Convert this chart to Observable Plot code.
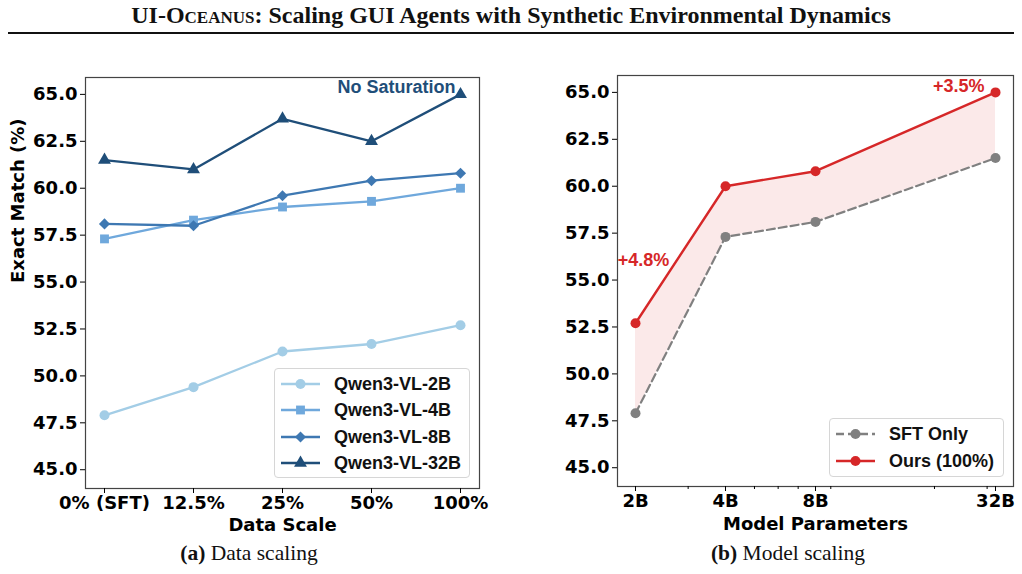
<!DOCTYPE html>
<html>
<head>
<meta charset="utf-8">
<script src="https://cdn.jsdelivr.net/npm/d3@7"></script>
<script src="https://cdn.jsdelivr.net/npm/@observablehq/plot@0.6"></script>
<style>
  html, body { margin: 0; padding: 0; background: #fff; }
  #page { position: relative; width: 1022px; height: 574px; overflow: hidden; background: #fff; }
  .abs { position: absolute; }
  #title { left: 0; width: 1022px; top: 0px; text-align: center; font-family: "Liberation Serif", serif; font-weight: bold; font-size: 24px; line-height: 30px; color: #111; }
  #rule { left: 8px; width: 1006px; top: 32px; height: 2px; background: #111; }
  .caption { font-family: "Liberation Serif", serif; font-size: 21.5px; line-height: 24px; color: #111; white-space: nowrap; transform: translateX(-50%); }
  .legend { border: 1px solid #d6d6d6; border-radius: 4px; background: rgba(255,255,255,0.85); box-sizing: border-box; }
  .legend .item { position: absolute; left: 0; height: 20px; }
  .legend .item svg { position: absolute; left: 0; top: 0; }
  .legend .item span { position: absolute; top: 0; line-height: 20px; font-family: "Liberation Sans", Arial, sans-serif; font-weight: bold; font-size: 18px; color: #111; white-space: nowrap; }
</style>
</head>
<body>
<div id="page">
  <div id="title" class="abs"><span style="font-variant: small-caps">UI-Oceanus</span>: Scaling GUI Agents with Synthetic Environmental Dynamics</div>
  <div id="rule" class="abs"></div>
  <div id="chartA" class="abs" style="left:0px; top:40px;"></div>
  <div id="chartB" class="abs" style="left:511px; top:40px;"></div>
  <div id="legendA" class="abs legend" style="left:274px; top:368px; width:196px; height:110px;"></div>
  <div id="legendB" class="abs legend" style="left:829px; top:418px; width:175px; height:59px;"></div>
  <div class="abs caption" style="left:249px; top:541px;"><b>(a)</b> Data scaling</div>
  <div class="abs caption" style="left:788px; top:541px;"><b>(b)</b> Model scaling</div>
</div>
<script>
// ---- Data scaling: exact match per training-data fraction ----
const scaleLabels = ["0% (SFT)", "12.5%", "25%", "50%", "100%"];
const models = ["Qwen3-VL-2B", "Qwen3-VL-4B", "Qwen3-VL-8B", "Qwen3-VL-32B"];
const match2B = [47.9, 49.4, 51.3, 51.7, 52.7];
const match4B = [57.3, 58.3, 59.0, 59.3, 60.0];
const match8B = [58.1, 58.0, 59.6, 60.4, 60.8];
const match32B = [61.5, 61.0, 63.7, 62.5, 65.0];
const modelColors = ["#a3cde6", "#6fa8dc", "#3e78b2", "#1f4e79"];
const modelSymbols = ["circle", "square", "diamond2", "triangle"];
const symbolRadius = [5, 5, 5, 4.8];

// ---- Model scaling: SFT baseline vs. full synthetic data ----
const paramsB = [2, 4, 8, 32];
const paramLabels = ["2B", "4B", "8B", "32B"];
const sftOnly = [47.9, 57.3, 58.1, 61.5];
const ours = [52.7, 60.0, 60.8, 65.0];
const minorParamTicks = [3, 5, 6, 7, 9, 20, 30];

const yTicks = [45, 47.5, 50, 52.5, 55, 57.5, 60, 62.5, 65];
const yDomain = [44, 65.9];

const RED = "#d62728", GREY = "#808080";
const tickFont = {fontSize: 18, fontWeight: "bold", fontFamily: "DejaVu Sans"};
const rootStyle = {background: "transparent", overflow: "visible", color: "#000",
  fontFamily: "DejaVu Sans", fontSize: "18px", fontWeight: "bold"};

const seriesValues = [match2B, match4B, match8B, match32B];
const rows = models.flatMap((m, i) => seriesValues[i].map((v, j) => ({model: m, scale: scaleLabels[j], value: v})));

// left panel: one line + marker layer per model so later series sit on top
const seriesMarks = models.flatMap((m, i) => {
  const d = rows.filter(r => r.model === m);
  return [
    Plot.line(d, {x: "scale", y: "value", stroke: modelColors[i], strokeWidth: 2.3}),
    Plot.dot(d, {x: "scale", y: "value", fill: modelColors[i], symbol: () => modelSymbols[i], r: symbolRadius[i]})
  ];
});

const last32 = rows.filter(r => r.model === models[3]).slice(-1);

const chartA = Plot.plot({
  width: 500, height: 500,
  marginLeft: 85, marginRight: 21, marginTop: 37, marginBottom: 52,
  style: rootStyle,
  x: {type: "point", domain: scaleLabels, padding: 0.2, align: 0.5},
  y: {domain: yDomain},
  symbol: {type: "identity"},
  marks: [
    Plot.frame({stroke: "#444", strokeWidth: 1.2}),
    Plot.axisY({ticks: yTicks, tickFormat: d => d.toFixed(1), tickSize: 5, tickPadding: 3, label: null, ...tickFont}),
    Plot.axisX({tickSize: 5, tickPadding: 3, label: null, ...tickFont}),
    ...seriesMarks,
    Plot.text(last32, {x: "scale", y: "value", text: () => "No Saturation", textAnchor: "end", dx: -5, dy: -7,
      fill: modelColors[3], fontSize: 18, fontWeight: "bold", fontFamily: "Liberation Sans"}),
    Plot.text(["Exact Match (%)"], {text: d => d, frameAnchor: "left", dx: -67, rotate: -90, ...tickFont}),
    Plot.text(["Data Scale"], {text: d => d, frameAnchor: "bottom", dy: 42, ...tickFont})
  ]
});
document.getElementById("chartA").appendChild(chartA);

// right panel
const modelRows = paramsB.map((b, i) => ({b, label: paramLabels[i], sft: sftOnly[i], ours: ours[i], gain: ours[i] - sftOnly[i]}));
const pad = Math.pow(2, 0.2);

const chartB = Plot.plot({
  width: 511, height: 500,
  marginLeft: 106, marginRight: 9, marginTop: 35, marginBottom: 54,
  style: rootStyle,
  x: {type: "log", base: 2, domain: [paramsB[0] / pad, paramsB[3] * pad]},
  y: {domain: yDomain},
  marks: [
    Plot.frame({stroke: "#444", strokeWidth: 1.2}),
    Plot.areaY(modelRows, {x: "b", y1: "sft", y2: "ours", fill: RED, fillOpacity: 0.1}),
    Plot.axisY({ticks: yTicks, tickFormat: d => d.toFixed(1), tickSize: 5, tickPadding: 3, label: null, ...tickFont}),
    Plot.axisX({ticks: minorParamTicks, tickFormat: () => "", tickSize: 3, label: null}),
    Plot.axisX({ticks: paramsB, tickFormat: d => paramLabels[paramsB.indexOf(d)], tickSize: 5, tickPadding: 3, label: null, ...tickFont}),
    Plot.line(modelRows, {x: "b", y: "sft", stroke: GREY, strokeWidth: 2.2, strokeDasharray: "8,4"}),
    Plot.dot(modelRows, {x: "b", y: "sft", fill: GREY, r: 5}),
    Plot.line(modelRows, {x: "b", y: "ours", stroke: RED, strokeWidth: 2.4}),
    Plot.dot(modelRows, {x: "b", y: "ours", fill: RED, r: 5}),
    Plot.text(modelRows.slice(0, 1), {x: "b", y: "ours", text: d => `+${d.gain.toFixed(1)}%`, dx: 8, dy: -63,
      fill: RED, fontSize: 18, fontWeight: "bold", fontFamily: "Liberation Sans"}),
    Plot.text(modelRows.slice(-1), {x: "b", y: "ours", text: d => `+${d.gain.toFixed(1)}%`, textAnchor: "end", dx: -11, dy: -6,
      fill: RED, fontSize: 18, fontWeight: "bold", fontFamily: "Liberation Sans"}),
    Plot.text(["Model Parameters"], {text: d => d, frameAnchor: "bottom", dy: 43, ...tickFont})
  ]
});
document.getElementById("chartB").appendChild(chartB);

// legends: line + marker handle followed by the series name
const d3Symbols = {circle: d3.symbolCircle, square: d3.symbolSquare, diamond2: d3.symbolDiamond2, triangle: d3.symbolTriangle};
function legendItem(container, top, color, symbol, r, name, dashed) {
  const item = document.createElement("div");
  item.className = "item";
  item.style.top = (top - 10) + "px";
  const svg = d3.create("svg").attr("width", 50).attr("height", 20);
  svg.append("line").attr("x1", 6).attr("x2", 45).attr("y1", 10).attr("y2", 10)
    .attr("stroke", color).attr("stroke-width", 2.3).attr("stroke-dasharray", dashed ? "8,4" : null);
  svg.append("path").attr("d", d3.symbol(d3Symbols[symbol], Math.PI * r * r)())
    .attr("transform", "translate(25.5,10)").attr("fill", color);
  item.appendChild(svg.node());
  const label = document.createElement("span");
  label.style.left = "59px";
  label.textContent = name;
  item.appendChild(label);
  container.appendChild(item);
}
const legA = document.getElementById("legendA");
models.forEach((m, i) => legendItem(legA, 15 + i * 26.3, modelColors[i], modelSymbols[i], symbolRadius[i], m, false));
const legB = document.getElementById("legendB");
legendItem(legB, 15, GREY, "circle", 5, "SFT Only", true);
legendItem(legB, 42, RED, "circle", 5, "Ours (100%)", false);
</script>
</body>
</html>
